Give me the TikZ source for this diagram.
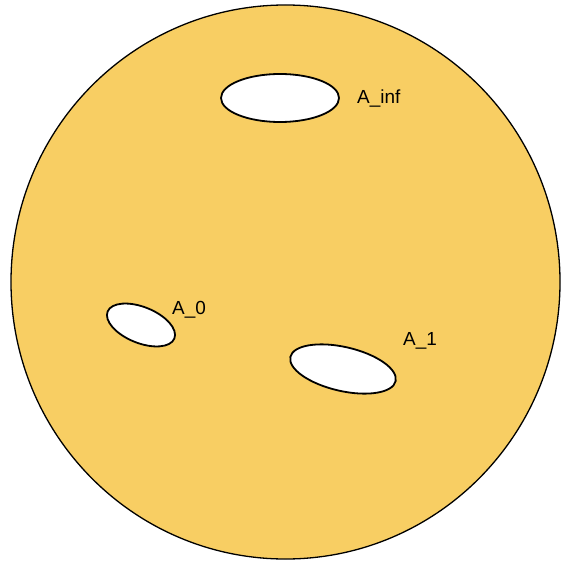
\documentclass[tikz,border=0pt]{standalone}
\usepackage{fontspec}
\setmainfont{Liberation Sans}
\usetikzlibrary{shapes.geometric}
\definecolor{diskfill}{HTML}{F8CE63}
\tikzset{
  disk/.style={ellipse, draw=black, line width=1.3bp, fill=diskfill, inner sep=0pt},
  hole/.style={ellipse, draw=black, line width=1.8bp, fill=white, inner sep=0pt},
  lbl/.style={font=\fontsize{19}{22}\selectfont, inner sep=0pt, anchor=west}
}
\begin{document}
\begin{tikzpicture}[x=1bp,y=-1bp]
\useasboundingbox (0,0) rectangle (563,562);
\node[disk, minimum width=549bp, minimum height=554bp] (disk) at (285.5,282) {};
\node[hole, minimum width=118bp, minimum height=48bp] (ainf) at (280,98) {};
\node[hole, minimum width=72bp, minimum height=36bp, rotate=-22] (a0) at (141,325) {};
\node[hole, minimum width=108bp, minimum height=44bp, rotate=-13] (a1) at (343,369) {};
\node[lbl] (tinf) at (357,99) {A\_inf};
\node[lbl] (t0) at (172,310) {A\_0};
\node[lbl] (t1) at (403,341) {A\_1};
\end{tikzpicture}
\end{document}
